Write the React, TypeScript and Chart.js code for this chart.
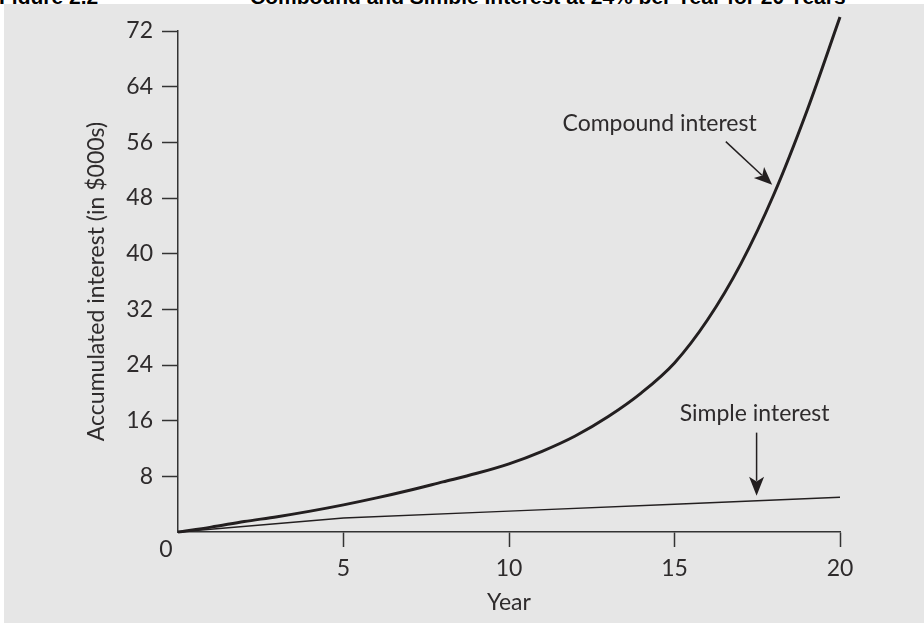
import React, { useEffect, useRef } from "react";
import { Chart, registerables } from "chart.js";

Chart.register(...registerables);

// ---- data ----
const compoundYears = [0, 1, 2, 3, 4, 5, 6, 7, 8, 9, 10, 11, 12, 13, 14, 15, 16, 17, 18, 19, 20];
const compoundValues = [0, 0.7, 1.5, 2.2, 3.0, 3.9, 4.9, 6.0, 7.2, 8.4, 9.8, 11.6, 13.8, 16.6, 20.0, 24.3, 30.5, 38.5, 48.5, 60.5, 74];
const simpleYears = [0, 5, 10, 15, 20];
const simpleValues = [0, 2.0, 3.0, 4.0, 5.0];
const xTicks = [0, 5, 10, 15, 20];
const yTicks = [0, 8, 16, 24, 32, 40, 48, 56, 64, 72];

const TITLE_FIG = "Figure 2.2";
const TITLE_TEXT = "Compound and Simple Interest at 24% per Year for 20 Years";
const Y_TITLE = "Accumulated interest (in $000s)";
const X_TITLE = "Year";
const COMPOUND_LABEL = "Compound interest";
const SIMPLE_LABEL = "Simple interest";

const FONT = "Lato";
const FS = 23;
const INK = "#231f20";
const TEXT = "#2e2b2c";
const BG = "#e6e6e6";

function arrow(ctx: CanvasRenderingContext2D, x1: number, y1: number, x2: number, y2: number, headLen: number, headW: number) {
  const ang = Math.atan2(y2 - y1, x2 - x1);
  const bx = x2 - Math.cos(ang) * headLen;
  const by = y2 - Math.sin(ang) * headLen;
  ctx.beginPath();
  ctx.moveTo(x1, y1);
  ctx.lineTo(bx + Math.cos(ang) * 4, by + Math.sin(ang) * 4);
  ctx.strokeStyle = INK;
  ctx.lineWidth = 1.5;
  ctx.stroke();
  const px = -Math.sin(ang), py = Math.cos(ang);
  const nx = x2 - Math.cos(ang) * headLen * 0.75;
  const ny = y2 - Math.sin(ang) * headLen * 0.75;
  ctx.beginPath();
  ctx.moveTo(x2, y2);
  ctx.lineTo(bx + px * headW / 2, by + py * headW / 2);
  ctx.lineTo(nx, ny);
  ctx.lineTo(bx - px * headW / 2, by - py * headW / 2);
  ctx.closePath();
  ctx.fillStyle = INK;
  ctx.fill();
}

const annotationPlugin = {
  id: "annots",
  afterDatasetsDraw(chart: any) {
    const { ctx, scales } = chart;
    const xs = scales.x, ys = scales.y;
    const X = (v: number) => xs.getPixelForValue(v);
    const Y = (v: number) => ys.getPixelForValue(v);
    ctx.save();
    ctx.font = `${FS}px ${FONT}`;
    ctx.fillStyle = TEXT;
    ctx.textAlign = "center";
    ctx.textBaseline = "middle";
    ctx.fillText(COMPOUND_LABEL, X(14.55), Y(58.7));
    ctx.fillText(SIMPLE_LABEL, X(17.42), Y(17.06));
    // origin label
    ctx.fillText("0", X(0) - 12, Y(0) + 18);
    arrow(ctx, X(16.55), Y(56.1), X(17.95), Y(49.9), 18, 15);
    arrow(ctx, X(17.48), Y(14.28), X(17.48), Y(5.2), 19, 15);
    ctx.restore();
  },
};

export default function App() {
  const ref = useRef<HTMLCanvasElement | null>(null);
  useEffect(() => {
    if (!ref.current) return;
    const chart = new Chart(ref.current, {
      type: "line",
      data: {
        datasets: [
          {
            label: "Compound interest",
            data: compoundYears.map((x, i) => ({ x, y: compoundValues[i] })),
            borderColor: INK,
            borderWidth: 3,
            pointRadius: 0,
            cubicInterpolationMode: "monotone",
            clip: false as any,
            fill: false,
          },
          {
            label: "Simple interest",
            data: simpleYears.map((x, i) => ({ x, y: simpleValues[i] })),
            borderColor: INK,
            borderWidth: 1.5,
            pointRadius: 0,
            tension: 0,
            clip: false as any,
            fill: false,
          },
        ],
      },
      options: {
        animation: false,
        responsive: false,
        devicePixelRatio: 1,
        layout: { padding: { left: 0, right: 84, top: 27, bottom: 0 } },
        plugins: { legend: { display: false }, tooltip: { enabled: false }, title: { display: false } },
        scales: {
          x: {
            type: "linear",
            min: 0,
            max: 20,
            afterFit: (s: any) => { s.height = 91; },
            afterBuildTicks: (s: any) => { s.ticks = xTicks.map((v) => ({ value: v })); },
            ticks: {
              font: { family: FONT, size: FS },
              color: TEXT,
              padding: 8,
              maxRotation: 0,
              callback: (v: any) => (v === 0 ? "" : String(v)),
            },
            grid: {
              drawOnChartArea: false,
              tickLength: 15,
              tickWidth: 1.5,
              color: (c: any) => (c.tick && c.tick.value === 0 ? "rgba(0,0,0,0)" : "#333"),
              tickColor: (c: any) => (c.tick && c.tick.value === 0 ? "rgba(0,0,0,0)" : "#333"),
            },
            border: { display: true, color: "#333", width: 1.5 },
            title: {
              display: true,
              text: X_TITLE,
              font: { family: FONT, size: FS },
              color: TEXT,
              padding: { top: 0, bottom: 7 },
            },
          },
          y: {
            type: "linear",
            min: 0,
            max: 72,
            afterFit: (s: any) => { s.width = 174; },
            afterBuildTicks: (s: any) => { s.ticks = yTicks.map((v) => ({ value: v })); },
            ticks: {
              font: { family: FONT, size: FS },
              color: TEXT,
              padding: 9,
              callback: (v: any) => (v === 0 ? "" : String(v)),
            },
            grid: {
              drawOnChartArea: false,
              tickLength: 16,
              tickWidth: 1.5,
              color: (c: any) => (c.tick && c.tick.value === 0 ? "rgba(0,0,0,0)" : "#333"),
              tickColor: (c: any) => (c.tick && c.tick.value === 0 ? "rgba(0,0,0,0)" : "#333"),
            },
            border: { display: true, color: "#333", width: 1.5 },
            title: {
              display: true,
              text: Y_TITLE,
              font: { family: FONT, size: FS },
              color: TEXT,
              padding: { top: 79, bottom: 0 },
            },
          },
        },
      },
      plugins: [annotationPlugin],
    });
    return () => chart.destroy();
  }, []);

  const titleFont = "bold 21px 'Liberation Sans', Arial, sans-serif";
  return (
    <div style={{ position: "absolute", left: 0, top: 0, width: 924, height: 623, background: "#fff", overflow: "hidden" }}>
      <div style={{ position: "absolute", left: 0, top: 0, width: 924, height: 4, overflow: "hidden" }}>
        <div style={{ position: "absolute", top: -14, left: -1, font: titleFont, lineHeight: "21px", whiteSpace: "pre", color: "#000" }}>
          {TITLE_FIG}
        </div>
        <div style={{ position: "absolute", top: -14, left: 250, font: titleFont, lineHeight: "21px", whiteSpace: "pre", color: "#000" }}>
          {TITLE_TEXT}
        </div>
      </div>
      <div style={{ position: "absolute", left: 4, top: 4, width: 920, height: 619, background: BG }}>
        <canvas ref={ref} width={920} height={619} style={{ display: "block", width: 920, height: 619 }} />
      </div>
    </div>
  );
}
